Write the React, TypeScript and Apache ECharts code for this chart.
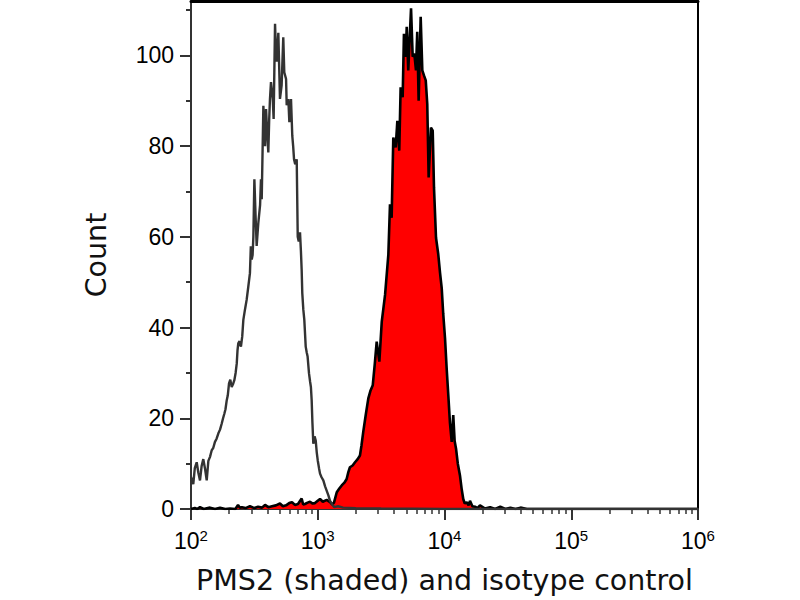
import React, { useEffect, useRef } from "react";
import * as echarts from "echarts";

// x tick exponents (10^n)
const xTickExponents = [2, 3, 4, 5, 6];
const yTickValues = [0, 20, 40, 60, 80, 100];
const yMinorTickValues = [10, 30, 50, 70, 90, 110];

// Isotype control histogram: log10(intensity) and counts
const isotypeLogX = [
  2.0, 2.018, 2.03, 2.045, 2.058, 2.071, 2.084, 2.097, 2.11, 2.124, 2.137, 2.15, 2.163, 2.176, 2.189,
  2.202, 2.216, 2.229, 2.242, 2.253, 2.263, 2.272, 2.282, 2.29, 2.3, 2.31, 2.321, 2.331, 2.342, 2.352,
  2.361, 2.367, 2.373, 2.383, 2.394, 2.404, 2.413, 2.426, 2.439, 2.452, 2.465, 2.472, 2.479, 2.486,
  2.492, 2.5, 2.509, 2.518, 2.531, 2.545, 2.552, 2.558, 2.571, 2.584, 2.592, 2.601, 2.61, 2.617, 2.623,
  2.631, 2.645, 2.652, 2.663, 2.67, 2.676, 2.689, 2.702, 2.715, 2.728, 2.736, 2.75, 2.755, 2.768,
  2.776, 2.789, 2.799, 2.806, 2.813, 2.822, 2.834, 2.842, 2.85, 2.86, 2.867, 2.873, 2.878, 2.886,
  2.894, 2.905, 2.913, 2.92, 2.931, 2.94, 2.946, 2.952, 2.958, 2.965, 2.975, 2.984, 2.992, 3.0, 3.01,
  3.018, 3.03, 3.044, 3.058, 3.071, 3.084, 3.097, 3.114, 3.131, 3.16, 3.2, 3.3, 3.5, 4.0, 6.0,
];
const isotypeCounts = [
  7.0, 5.5, 9, 10.3, 8, 6.3, 9.5, 11.0, 9, 6.3, 10.6, 11.5, 12.9, 13.5, 14.8,
  15.5, 16.7, 17.5, 18.8, 20, 21.0, 22, 24.0, 25, 27.7, 28.5, 26.9, 27.5, 28.4, 30,
  32.1, 35, 36.5, 37, 35.8, 38, 41.7, 44, 46.1, 49, 52, 57.9, 55, 56,
  60, 72.7, 65, 58, 63, 67, 72.7, 68.3, 88.9, 80, 88.2, 83, 78.6, 86, 90.4,
  94.1, 90.4, 86, 107, 101, 98.6, 105, 90.4, 93.4, 104, 96.3, 94.8, 89, 90.4,
  85.3, 90.4, 82.3, 80, 77.1, 76, 77.1, 60, 59, 61, 57, 52.8, 47.6, 44,
  41.7, 35.8, 34.5, 33.6, 29.9, 28, 26.9, 24, 19, 14.4, 16, 15.1, 12.5, 10.7, 9,
  7.8, 7, 6.3, 5, 4, 3, 1.8, 1, 0.4, 0.6, 0.3, 0.2, 0.1, 0, 0,
];

// PMS2 (shaded) histogram: log10(intensity) and counts
const pms2LogX = [
  2.0, 2.03, 2.05, 2.071, 2.1, 2.15, 2.19, 2.229, 2.27, 2.308, 2.35, 2.371, 2.385, 2.402, 2.43,
  2.465, 2.5, 2.529, 2.56, 2.584, 2.61, 2.639, 2.67, 2.702, 2.725, 2.75, 2.775, 2.797, 2.82, 2.844,
  2.873, 2.885, 2.899, 2.92, 2.939, 2.96, 2.978, 3.0, 3.018, 3.04, 3.071, 3.097, 3.115, 3.128, 3.15,
  3.17, 3.189, 3.21, 3.228, 3.24, 3.254, 3.275, 3.294, 3.315, 3.333, 3.345, 3.359, 3.38, 3.399, 3.415,
  3.434, 3.45, 3.465, 3.486, 3.505, 3.531, 3.557, 3.57, 3.583, 3.596, 3.615, 3.628, 3.643, 3.654,
  3.67, 3.68, 3.694, 3.702, 3.714, 3.736, 3.749, 3.762, 3.775, 3.785, 3.796, 3.812, 3.825, 3.838,
  3.852, 3.864, 3.875, 3.893, 3.907, 3.917, 3.933, 3.951, 3.965, 3.978, 3.99, 4.004, 4.017, 4.03,
  4.043, 4.057, 4.069, 4.08, 4.091, 4.105, 4.122, 4.135, 4.148, 4.16, 4.175, 4.19, 4.201, 4.22, 4.241,
  4.26, 4.28, 4.32, 4.36, 4.4, 4.44, 4.48, 4.52, 4.56, 4.6, 4.65, 6.0,
];
const pms2Counts = [
  0, 0.2, 0, 0.4, 0, 0.3, 0, 0.3, 0, 0.1, 0, 0.9, 0.3, 0.4, 0.2,
  0.6, 0.2, 0.5, 0.3, 0.9, 0.4, 0.6, 0.8, 1.2, 0.6, 0.8, 1.3, 1.5, 0.9, 1.1,
  2.3, 1.0, 1.1, 1.4, 1.6, 1.2, 1.3, 1.8, 2.2, 1.6, 2.0, 1.5, 1.0, 1.4, 3.7,
  4.5, 5.2, 5.8, 6.6, 8, 9.2, 9.6, 10.3, 11, 11.8, 14, 17, 21, 24.4, 26,
  27.3, 32, 36.9, 32.5, 41.3, 47.2, 56.1, 67.2, 64.2, 81.9, 79.7, 85.6, 79, 93,
  90.8, 104.8, 99.7, 106.3, 96.7, 110.4, 99.7, 100.4, 96.7, 105.2, 90, 108.5, 96.7, 95.6,
  94.5, 89.3, 73.1, 84.1, 83.4, 70.9, 59.8, 56.1, 52, 48.7, 43, 37.7, 31, 25.1,
  19, 14.8, 20.7, 15, 13.3, 10, 7.4, 4.5, 2.2, 1.2, 1.5, 0.8, 1.8, 0.6, 0.5,
  0.2, 0.8, 0.1, 0.4, 0, 0.5, 0, 0.3, 0, 0.3, 0, 0,
];

const xAxisTitle = "PMS2 (shaded) and isotype control";
const yAxisTitle = "Count";

const tickFont = "'Liberation Sans Narrow', 'Arial Narrow', 'Liberation Sans', Arial, sans-serif";
const titleFont = "'DejaVu Sans', Verdana, sans-serif";

export default function App() {
  const ref = useRef<HTMLDivElement>(null);
  useEffect(() => {
    document.body.style.margin = "0";
    const chart = echarts.init(ref.current as HTMLDivElement, null, { renderer: "svg" });
    const toPairs = (xs: number[], ys: number[]) => xs.map((e, i) => [Math.pow(10, e), ys[i]]);
    const xMin = Math.pow(10, xTickExponents[0]);
    const xMax = Math.pow(10, xTickExponents[xTickExponents.length - 1]);
    chart.setOption({
      animation: false,
      backgroundColor: "#ffffff",
      grid: { left: 191, right: 102, top: 1, bottom: 91, outerBoundsMode: "none" },
      xAxis: [
        {
          type: "log",
          logBase: 10,
          min: xMin,
          max: xMax,
          position: "bottom",
          axisLine: { show: true, onZero: false, lineStyle: { color: "#333333", width: 2 } },
          axisTick: { show: true, length: 11, lineStyle: { color: "#333333", width: 2 } },
          minorTick: { show: true, splitNumber: 9, length: 5, lineStyle: { color: "#333333", width: 1.5 } },
          splitLine: { show: false },
          minorSplitLine: { show: false },
          axisLabel: {
            margin: 19,
            color: "#000",
            fontFamily: tickFont,
            fontSize: 23,
            formatter: (v: number) => "10{sup|" + Math.round(Math.log10(v)) + "}",
            rich: {
              sup: { fontSize: 15, fontFamily: tickFont, color: "#000", verticalAlign: "top", padding: [0, 0, 11, 0] },
            },
          },
          name: xAxisTitle,
          nameLocation: "middle",
          nameGap: 57,
          nameTextStyle: { fontFamily: titleFont, fontSize: 28.5, color: "#111" },
        },
        {
          type: "value",
          min: 0,
          max: 1,
          position: "top",
          axisLine: { show: true, onZero: false, lineStyle: { color: "#000", width: 3 } },
          axisTick: { show: false },
          axisLabel: { show: false },
          splitLine: { show: false },
        },
      ],
      yAxis: [
        {
          type: "value",
          min: 0,
          max: 112,
          position: "left",
          axisLine: { show: true, onZero: false, lineStyle: { color: "#333333", width: 2 } },
          axisTick: { show: true, length: 11, customValues: yTickValues, lineStyle: { color: "#333333", width: 2 } },
          axisLabel: {
            show: true,
            customValues: yTickValues,
            margin: 17,
            color: "#000",
            fontFamily: tickFont,
            fontSize: 23,
          },
          splitLine: { show: false },
          name: yAxisTitle,
          nameLocation: "middle",
          nameGap: 80,
          nameTextStyle: { fontFamily: titleFont, fontSize: 28.5, color: "#111" },
        },
        {
          type: "value",
          min: 0,
          max: 112,
          position: "left",
          axisLine: { show: false, onZero: false },
          axisTick: { show: true, length: 5, customValues: yMinorTickValues, lineStyle: { color: "#333333", width: 2 } },
          axisLabel: { show: false },
          splitLine: { show: false },
        },
        {
          type: "value",
          min: 0,
          max: 112,
          position: "right",
          axisLine: { show: true, onZero: false, lineStyle: { color: "#000", width: 2 } },
          axisTick: { show: false },
          axisLabel: { show: false },
          splitLine: { show: false },
        },
      ],
      series: [
        {
          name: "PMS2",
          type: "line",
          xAxisIndex: 0,
          yAxisIndex: 0,
          data: toPairs(pms2LogX, pms2Counts),
          showSymbol: false,
          symbol: "none",
          lineStyle: { color: "#000000", width: 2.6 },
          areaStyle: { color: "#ff0000", opacity: 1 },
          z: 2,
        },
        {
          name: "Isotype control",
          type: "line",
          xAxisIndex: 0,
          yAxisIndex: 0,
          data: toPairs(isotypeLogX, isotypeCounts),
          showSymbol: false,
          symbol: "none",
          lineStyle: { color: "#333333", width: 2.4 },
          z: 3,
        },
      ],
    });
    return () => chart.dispose();
  }, []);
  return <div ref={ref} style={{ width: 800, height: 600 }} />;
}
